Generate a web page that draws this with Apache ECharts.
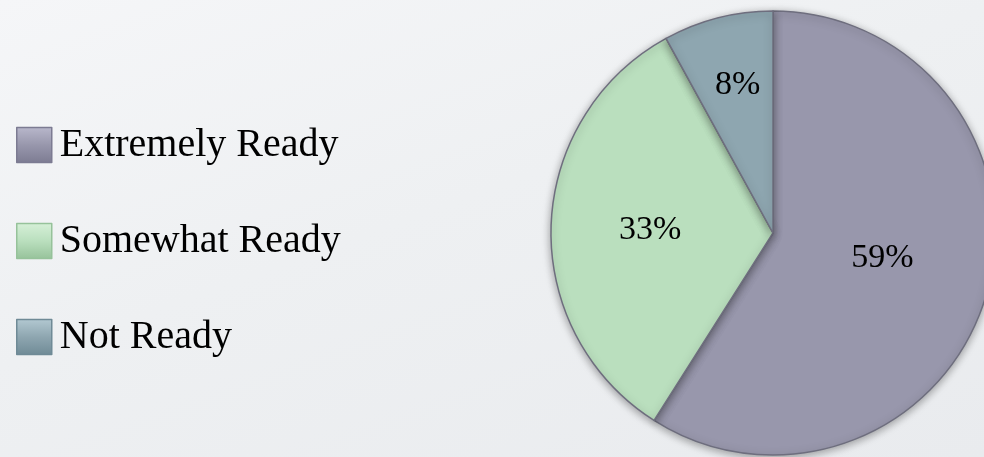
<!DOCTYPE html>
<html>
<head>
<meta charset="utf-8">
<script src="https://cdn.jsdelivr.net/npm/echarts@6/dist/echarts.min.js"></script>
<style>
html,body{margin:0;padding:0;}
#chart{width:984px;height:457px;background:linear-gradient(160deg,#f5f6f8 0%,#eef0f2 45%,#e9ebee 100%);}
</style>
</head>
<body>
<div id="chart"></div>
<script>
const categories = ["Extremely Ready", "Somewhat Ready", "Not Ready"];
const values = [59, 33, 8];
const labels = ["59%", "33%", "8%"];

const colors = ["#9897ac", "#badfbe", "#8ea6b0"];
const lightColors = ["#b9b8cc", "#d6f0d8", "#b3c9d2"];
const darkColors = ["#7c7b92", "#96c29a", "#6f8a96"];
const labelShift = [[0, -7], [-9, 1], [-7, -38]];

const chart = echarts.init(document.getElementById('chart'), null, {renderer: 'canvas'});

const option = {
  animation: false,
  legend: {
    orient: 'vertical',
    left: 16,
    top: 121,
    padding: 0,
    itemWidth: 35,
    itemHeight: 35,
    itemGap: 48,
    icon: 'rect',
    selectedMode: false,
    textStyle: {
      fontFamily: '"Liberation Serif", "Times New Roman", serif',
      fontSize: 40,
      lineHeight: 40,
      color: '#000',
      padding: [0, 0, 8, 3]
    },
    data: categories.map((c, i) => ({
      name: c,
      itemStyle: {
        color: new echarts.graphic.LinearGradient(0, 0, 0, 1, [
          {offset: 0, color: lightColors[i]},
          {offset: 0.5, color: colors[i]},
          {offset: 1, color: darkColors[i]}
        ]),
        borderColor: darkColors[i],
        borderWidth: 1.5
      }
    }))
  },
  series: [{
    type: 'pie',
    center: [773, 233],
    radius: 222,
    startAngle: 90,
    clockwise: true,
    avoidLabelOverlap: false,
    data: categories.map((c, i) => ({
      name: c,
      value: values[i],
      itemStyle: {color: colors[i]}
    })),
    itemStyle: {
      borderColor: '#6e6e7e',
      borderWidth: 1.5,
      shadowBlur: 8,
      shadowColor: 'rgba(0,0,0,0.35)',
      shadowOffsetY: 2
    },
    label: {
      show: true,
      position: 'inside',
      formatter: (p) => labels[p.dataIndex],
      fontFamily: '"Liberation Serif", "Times New Roman", serif',
      fontSize: 34,
      color: '#000'
    },
    labelLine: {show: false},
    labelLayout: (p) => ({dx: labelShift[p.dataIndex][0], dy: labelShift[p.dataIndex][1]}),
    emphasis: {disabled: true}
  }]
};
chart.setOption(option);
</script>
</body>
</html>
